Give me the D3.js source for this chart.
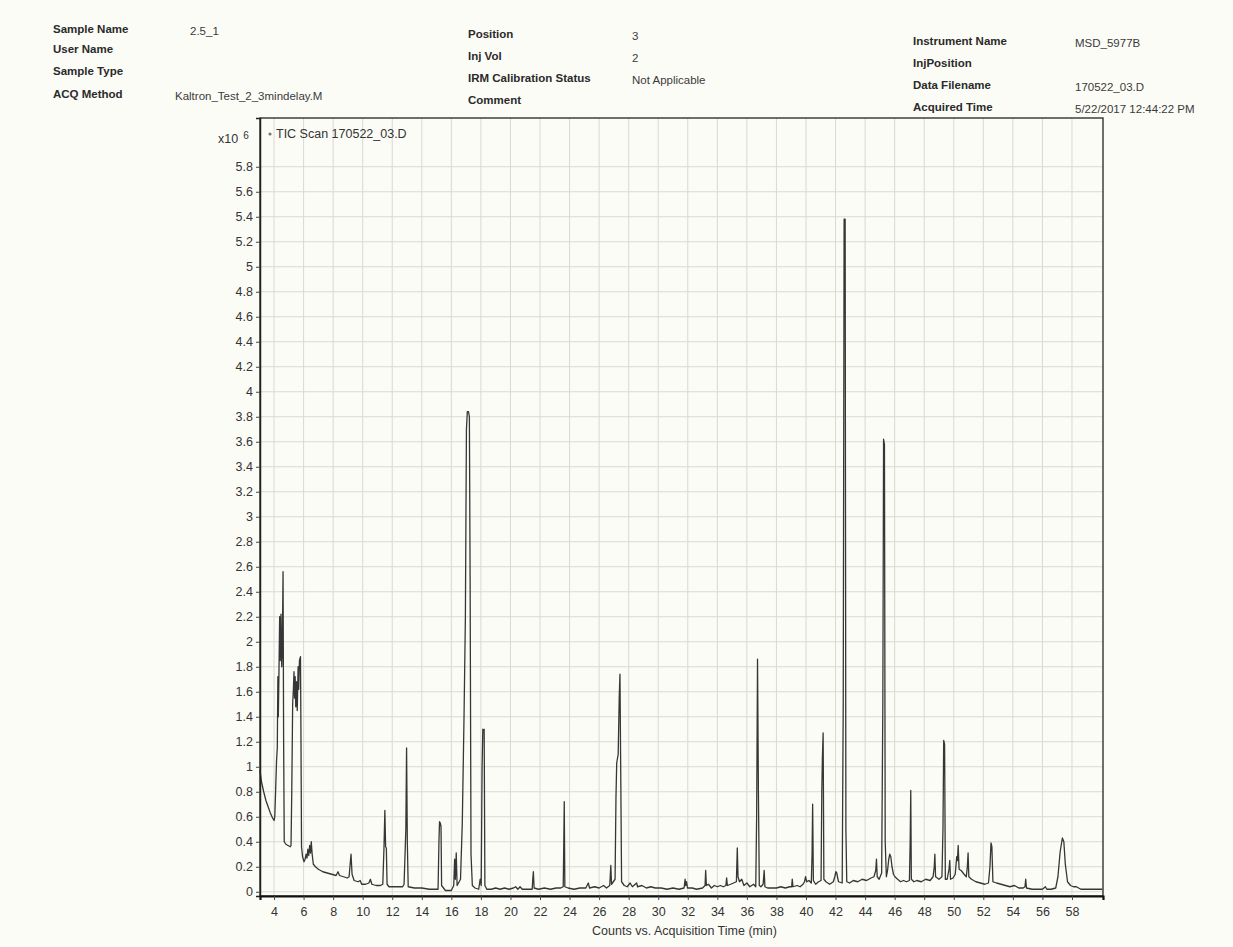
<!DOCTYPE html>
<html>
<head>
<meta charset="utf-8">
<script src="https://cdn.jsdelivr.net/npm/d3@7/dist/d3.min.js"></script>
<style>
  html, body { margin: 0; padding: 0; background: #fcfcf7; }
  svg { display: block; }
  .hdr-label { font-family: "Liberation Sans", Arial, sans-serif; font-size: 11.5px; font-weight: bold; fill: #2a2a2a; }
  .hdr-value { font-family: "Liberation Sans", Arial, sans-serif; font-size: 11.5px; fill: #3a3a3a; }
  .tick text { font-family: "Liberation Sans", Arial, sans-serif; font-size: 12.5px; fill: #333; }
</style>
</head>
<body>
<svg id="chart" width="1233" height="947"></svg>
<script>
// ---- Report header fields ----
const headerLabelsLeft  = ["Sample Name", "User Name", "Sample Type", "ACQ Method"];
const headerValuesLeft  = ["2.5_1", "", "", "Kaltron_Test_2_3mindelay.M"];
const headerLabelsMid   = ["Position", "Inj Vol", "IRM Calibration Status", "Comment"];
const headerValuesMid   = ["3", "2", "Not Applicable", ""];
const headerLabelsRight = ["Instrument Name", "InjPosition", "Data Filename", "Acquired Time"];
const headerValuesRight = ["MSD_5977B", "", "170522_03.D", "5/22/2017 12:44:22 PM"];

const traceName = "TIC Scan 170522_03.D";
const xAxisTitle = "Counts vs. Acquisition Time (min)";

// ---- Axis ticks ----
const xTicks = [4, 6, 8, 10, 12, 14, 16, 18, 20, 22, 24, 26, 28, 30, 32, 34, 36, 38, 40,
                42, 44, 46, 48, 50, 52, 54, 56, 58];
const yTicks = [0, 0.2, 0.4, 0.6, 0.8, 1, 1.2, 1.4, 1.6, 1.8, 2, 2.2, 2.4, 2.6, 2.8, 3,
                3.2, 3.4, 3.6, 3.8, 4, 4.2, 4.4, 4.6, 4.8, 5, 5.2, 5.4, 5.6, 5.8];

// ---- Total ion chromatogram: acquisition time (min) and counts (x10^6) ----
const acqTime = [
  3.05, 3.15, 3.3, 3.45, 3.6, 3.75, 3.9, 4.0, 4.05, 4.1, 4.17, 4.22, 4.26, 4.29, 4.33, 4.38,
  4.42, 4.47, 4.52, 4.56, 4.61, 4.65, 4.69, 4.8, 4.95, 5.1, 5.15, 5.2, 5.26, 5.31, 5.35, 5.39,
  5.43, 5.47, 5.52, 5.57, 5.63, 5.67, 5.72, 5.79, 5.82, 5.86, 5.93, 6.03, 6.1, 6.17, 6.23, 6.29,
  6.35, 6.41, 6.47, 6.52, 6.58, 6.66, 6.8, 7.0, 7.3, 7.6, 7.9, 8.2, 8.33, 8.43, 8.7, 8.95,
  9.08, 9.15, 9.21, 9.28, 9.42, 9.7, 9.83, 9.93, 10.2, 10.42, 10.52, 10.62, 10.9, 11.2, 11.36, 11.44,
  11.5, 11.55, 11.6, 11.65, 11.78, 12.3, 12.7, 12.8, 12.92, 12.97, 13.02, 13.08, 13.5, 14.0, 14.5, 14.9,
  15.1, 15.16, 15.2, 15.25, 15.3, 15.34, 15.6, 16.0, 16.16, 16.22, 16.27, 16.33, 16.39, 16.62, 16.74, 16.86,
  16.95, 17.02, 17.08, 17.16, 17.22, 17.27, 17.33, 17.42, 17.6, 17.85, 17.95, 18.02, 18.08, 18.13, 18.18, 18.22,
  18.27, 18.4, 18.7, 19.0, 19.3, 19.6, 19.9, 20.2, 20.35, 20.5, 20.65, 20.8, 21.2, 21.47, 21.51, 21.55,
  21.6, 21.9, 22.3, 22.7, 23.1, 23.4, 23.57, 23.61, 23.64, 23.68, 23.9, 24.3, 24.7, 25.1, 25.27, 25.35,
  25.7, 26.0, 26.3, 26.5, 26.72, 26.79, 26.84, 27.08, 27.14, 27.19, 27.29, 27.36, 27.41, 27.46, 27.52, 27.7,
  27.9, 28.1, 28.25, 28.54, 28.6, 28.9, 29.2, 29.5, 29.8, 30.2, 30.6, 31.0, 31.4, 31.75, 31.82, 31.86,
  31.92, 31.98, 32.3, 32.6, 33.0, 33.17, 33.21, 33.26, 33.4, 33.6, 33.8, 34.0, 34.2, 34.4, 34.58, 34.63,
  34.68, 34.9, 35.1, 35.29, 35.35, 35.4, 35.5, 35.65, 35.8, 36.0, 36.2, 36.45, 36.6, 36.66, 36.72, 36.78,
  36.84, 36.95, 37.1, 37.17, 37.22, 37.4, 37.7, 38.0, 38.3, 38.6, 38.9, 39.03, 39.07, 39.12, 39.4, 39.6,
  39.8, 39.9, 39.97, 40.05, 40.2, 40.36, 40.41, 40.45, 40.5, 40.65, 40.85, 41.02, 41.07, 41.11, 41.16, 41.21,
  41.35, 41.6, 41.85, 41.95, 42.02, 42.08, 42.2, 42.45, 42.52, 42.58, 42.65, 42.7, 42.76, 42.95, 43.2, 43.5,
  43.8, 44.1, 44.4, 44.6, 44.72, 44.77, 44.82, 44.95, 45.12, 45.2, 45.25, 45.31, 45.36, 45.44, 45.52, 45.6,
  45.67, 45.74, 45.82, 45.92, 46.02, 46.2, 46.4, 46.6, 46.8, 47.0, 47.05, 47.09, 47.13, 47.3, 47.5, 47.8,
  48.1, 48.4, 48.6, 48.68, 48.72, 48.77, 49.0, 49.2, 49.27, 49.32, 49.38, 49.43, 49.55, 49.68, 49.73, 49.78,
  49.95, 50.1, 50.2, 50.25, 50.3, 50.36, 50.5, 50.7, 50.85, 50.92, 50.97, 51.02, 51.2, 51.5, 51.8, 52.1,
  52.35, 52.45, 52.52, 52.58, 52.65, 52.9, 53.2, 53.5, 53.8, 54.1, 54.4, 54.7, 54.82, 54.87, 54.92, 55.3,
  55.7, 56.0, 56.2, 56.3, 56.6, 56.9, 57.05, 57.2, 57.35, 57.45, 57.55, 57.7, 57.9, 58.1, 58.3, 58.6,
  59.0, 59.5, 60.05
];
const counts = [
  0.97, 0.88, 0.80, 0.73, 0.68, 0.63, 0.59, 0.57, 0.60, 0.78, 1.05, 1.15, 1.72, 1.40, 1.72, 2.20,
  1.85, 2.22, 1.80, 1.95, 2.56, 1.20, 0.40, 0.38, 0.37, 0.36, 0.37, 0.80, 1.50, 1.62, 1.76, 1.55,
  1.72, 1.48, 1.68, 1.45, 1.80, 1.62, 1.85, 1.88, 1.30, 0.36, 0.28, 0.24, 0.26, 0.30, 0.27, 0.34,
  0.29, 0.37, 0.31, 0.40, 0.30, 0.22, 0.20, 0.18, 0.16, 0.15, 0.14, 0.13, 0.16, 0.13, 0.12, 0.11,
  0.12, 0.22, 0.30, 0.14, 0.09, 0.08, 0.09, 0.06, 0.06, 0.07, 0.10, 0.06, 0.05, 0.05, 0.06, 0.35,
  0.65, 0.36, 0.35, 0.06, 0.04, 0.04, 0.04, 0.06, 0.50, 1.15, 0.40, 0.04, 0.03, 0.03, 0.02, 0.02,
  0.02, 0.40, 0.56, 0.55, 0.52, 0.05, 0.01, 0.01, 0.05, 0.26, 0.10, 0.31, 0.05, 0.10, 0.55, 1.42,
  2.20, 3.70, 3.84, 3.84, 3.80, 2.50, 0.30, 0.05, 0.03, 0.02, 0.10, 0.05, 1.00, 1.30, 1.29, 1.30,
  0.05, 0.02, 0.02, 0.03, 0.02, 0.03, 0.02, 0.03, 0.04, 0.02, 0.04, 0.02, 0.02, 0.02, 0.10, 0.16,
  0.03, 0.02, 0.03, 0.02, 0.03, 0.03, 0.04, 0.40, 0.72, 0.04, 0.03, 0.02, 0.03, 0.03, 0.07, 0.03,
  0.04, 0.03, 0.05, 0.03, 0.05, 0.21, 0.06, 0.10, 0.75, 1.03, 1.10, 1.55, 1.74, 1.00, 0.08, 0.05,
  0.04, 0.07, 0.04, 0.07, 0.04, 0.05, 0.03, 0.04, 0.03, 0.03, 0.02, 0.03, 0.02, 0.03, 0.10, 0.05,
  0.08, 0.03, 0.03, 0.02, 0.03, 0.05, 0.17, 0.05, 0.06, 0.03, 0.05, 0.04, 0.05, 0.04, 0.05, 0.11,
  0.05, 0.06, 0.07, 0.08, 0.35, 0.12, 0.08, 0.10, 0.05, 0.07, 0.04, 0.06, 0.04, 0.60, 1.86, 0.80,
  0.05, 0.04, 0.06, 0.17, 0.04, 0.03, 0.03, 0.03, 0.04, 0.03, 0.04, 0.04, 0.10, 0.04, 0.05, 0.04,
  0.06, 0.08, 0.12, 0.08, 0.09, 0.07, 0.30, 0.70, 0.09, 0.06, 0.08, 0.09, 0.80, 1.07, 1.27, 0.10,
  0.08, 0.06, 0.08, 0.12, 0.16, 0.15, 0.08, 0.07, 1.50, 5.38, 5.38, 0.50, 0.08, 0.07, 0.09, 0.08,
  0.10, 0.09, 0.11, 0.12, 0.17, 0.26, 0.12, 0.10, 0.15, 1.50, 3.62, 3.58, 0.40, 0.12, 0.17, 0.26,
  0.30, 0.28, 0.20, 0.14, 0.12, 0.10, 0.08, 0.09, 0.08, 0.09, 0.40, 0.81, 0.10, 0.08, 0.09, 0.08,
  0.10, 0.09, 0.12, 0.20, 0.30, 0.12, 0.10, 0.12, 0.50, 1.21, 1.18, 0.10, 0.10, 0.18, 0.25, 0.10,
  0.11, 0.14, 0.28, 0.25, 0.37, 0.18, 0.17, 0.14, 0.12, 0.20, 0.31, 0.12, 0.10, 0.08, 0.07, 0.06,
  0.07, 0.20, 0.39, 0.36, 0.08, 0.07, 0.06, 0.05, 0.04, 0.05, 0.03, 0.03, 0.04, 0.10, 0.03, 0.02,
  0.02, 0.02, 0.04, 0.02, 0.02, 0.03, 0.12, 0.32, 0.43, 0.40, 0.22, 0.08, 0.05, 0.04, 0.04, 0.02,
  0.02, 0.02, 0.02
];

// ---- Layout ----
const svg = d3.select("#chart");
const plot = { left: 260, right: 1103, top: 118, bottom: 896 };

const x = d3.scaleLinear().domain([3.05, 60.1]).range([plot.left, plot.right]);
const y = d3.scaleLinear().domain([-0.034, 6.19]).range([plot.bottom, plot.top]);

// ---- Header block ----
function headerColumn(labels, values, lx, vx, ys) {
  labels.forEach((t, i) => {
    svg.append("text").attr("class", "hdr-label").attr("x", lx).attr("y", ys[i]).text(t);
  });
  values.forEach((t, i) => {
    if (t) svg.append("text").attr("class", "hdr-value").attr("x", vx[i]).attr("y", ys[i] + 2).text(t);
  });
}
headerColumn(headerLabelsLeft, headerValuesLeft, 53, [190, 190, 190, 175], [33, 53, 75, 98]);
headerColumn(headerLabelsMid, headerValuesMid, 468, [632, 632, 632, 632], [38, 60, 82, 104]);
headerColumn(headerLabelsRight, headerValuesRight, 913, [1075, 1075, 1075, 1075], [45, 67, 89, 111]);

// ---- Grid ----
const grid = svg.append("g").attr("stroke", "#d9d9d4").attr("stroke-width", 1);
grid.selectAll("line.v").data(xTicks).join("line")
  .attr("x1", d => x(d)).attr("x2", d => x(d))
  .attr("y1", plot.top).attr("y2", plot.bottom);
grid.selectAll("line.h").data(yTicks).join("line")
  .attr("x1", plot.left).attr("x2", plot.right)
  .attr("y1", d => y(d)).attr("y2", d => y(d));

// ---- Chromatogram trace ----
const points = acqTime.map((t, i) => [t, counts[i]]);
const line = d3.line().x(d => x(d[0])).y(d => y(d[1]));
svg.append("path")
  .datum(points)
  .attr("fill", "none")
  .attr("stroke", "#363636")
  .attr("stroke-width", 1.3)
  .attr("stroke-linejoin", "round")
  .attr("d", line);

// ---- Frame ----
svg.append("rect")
  .attr("x", plot.left).attr("y", plot.top)
  .attr("width", plot.right - plot.left).attr("height", plot.bottom - plot.top)
  .attr("fill", "none").attr("stroke", "#222").attr("stroke-width", 1.3);

// ---- Axes ----
const yAxis = d3.axisLeft(y).tickValues(yTicks).tickSize(4).tickPadding(3)
  .tickFormat(d => String(+d.toFixed(1)));
const gy = svg.append("g").attr("transform", `translate(${plot.left},0)`).call(yAxis);
gy.select(".domain").attr("stroke", "#222").attr("stroke-width", 1.5);
gy.selectAll(".tick line").attr("stroke", "#444");

const xAxis = d3.axisBottom(x).tickValues(xTicks).tickSize(4).tickPadding(7);
const gx = svg.append("g").attr("transform", `translate(0,${plot.bottom})`).call(xAxis);
gx.select(".domain").attr("stroke", "#111").attr("stroke-width", 2.2);
gx.selectAll(".tick line").attr("stroke", "#444");

// ---- Scale factor and trace legend ----
const sf = svg.append("text")
  .attr("x", 218).attr("y", 143)
  .attr("font-family", "Liberation Sans, Arial, sans-serif").attr("font-size", 12.5).attr("fill", "#333");
sf.append("tspan").text("x10");
sf.append("tspan").attr("dx", 5).attr("dy", -4).attr("font-size", 10).text("6");

svg.append("circle").attr("cx", 270).attr("cy", 134).attr("r", 1.6).attr("fill", "#777");
svg.append("text")
  .attr("x", 276).attr("y", 138)
  .attr("font-family", "Liberation Sans, Arial, sans-serif").attr("font-size", 12.5).attr("fill", "#333")
  .text(traceName);

// ---- Axis title ----
svg.append("text")
  .attr("x", (plot.left + plot.right) / 2 + 3).attr("y", 935)
  .attr("text-anchor", "middle")
  .attr("font-family", "Liberation Sans, Arial, sans-serif").attr("font-size", 12.5).attr("fill", "#333")
  .text(xAxisTitle);
</script>
</body>
</html>
